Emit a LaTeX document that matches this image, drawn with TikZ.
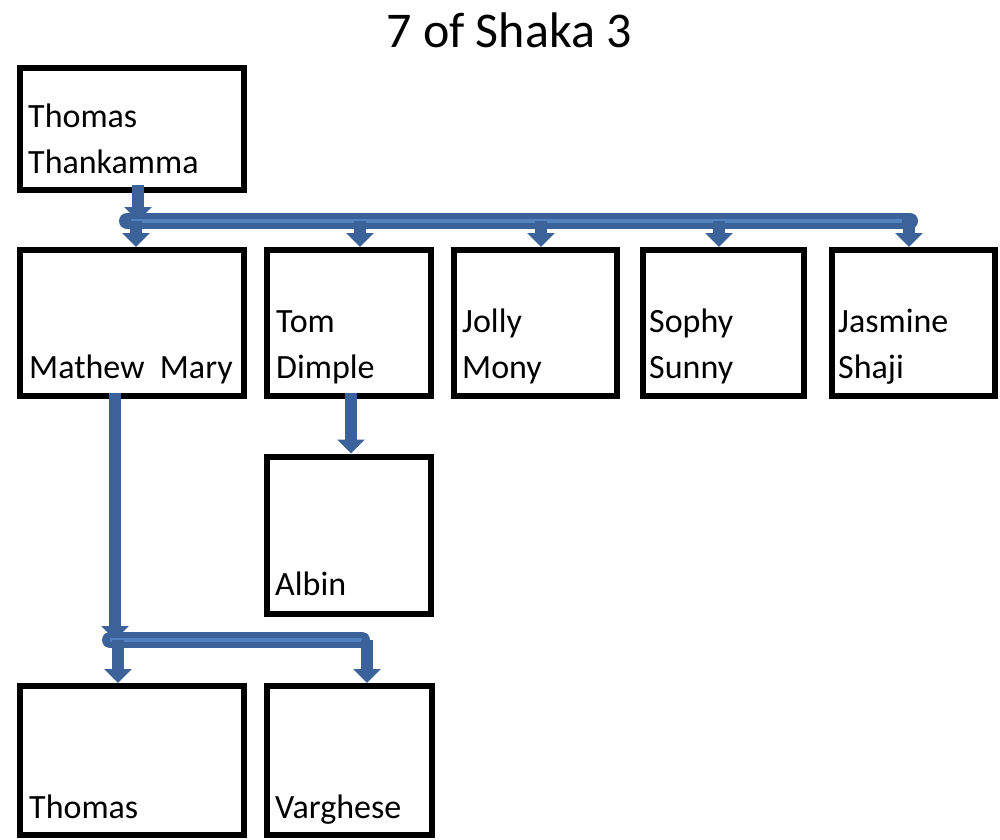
\documentclass[tikz,border=0pt]{standalone}
\usepackage{fontspec}
\setmainfont{Carlito}
\usetikzlibrary{arrows.meta}
\definecolor{conn}{RGB}{60,99,153}
\definecolor{connlight}{RGB}{84,130,190}
\begin{document}
\begin{tikzpicture}[x=1pt,y=-1pt,
 box/.style={draw=black, line width=6pt, fill=white, inner sep=0pt, outer sep=3pt},
 txt/.style={font=\fontsize{34}{46}\selectfont, inner sep=0pt, anchor=base west, align=left},
 link/.style={draw=conn, line width=12pt, -{Triangle[width=27pt,length=14pt]}},
 bus/.style={draw=conn, line width=16pt, line cap=round},
 busmark/.style={draw=connlight, line width=4pt},
]
\fill[white] (0,0) rectangle (1000,839);
\useasboundingbox (0,0) rectangle (1000,839);

\node[font=\fontsize{50}{60}\selectfont, anchor=base, inner sep=0pt] (title) at (509,47) {7 of Shaka 3};

% boxes
\node[box, minimum width=224pt, minimum height=122pt] (A) at (132,129) {};
\node[box, minimum width=224pt, minimum height=146pt] (B) at (132,323) {};
\node[box, minimum width=164pt, minimum height=146pt] (C) at (349,323) {};
\node[box, minimum width=163pt, minimum height=146pt] (D) at (535.5,323) {};
\node[box, minimum width=161pt, minimum height=146pt] (E) at (723.5,323) {};
\node[box, minimum width=163pt, minimum height=146pt] (F) at (913.5,323) {};
\node[box, minimum width=164pt, minimum height=157pt] (G) at (349,535) {};
\node[box, minimum width=224pt, minimum height=149pt] (H) at (132,760.5) {};
\node[box, minimum width=165pt, minimum height=149pt] (I) at (349.5,760.5) {};

% texts (anchor = baseline of last line)
\node[txt] (tA) at (28,173) {Thomas\\Thankamma};
\node[txt] (tB) at (29,378) {Mathew~~Mary};
\node[txt] (tC) at (276,378) {Tom\\Dimple};
\node[txt] (tD) at (462,378) {Jolly\\Mony};
\node[txt] (tE) at (649,378) {Sophy\\Sunny};
\node[txt] (tF) at (838,378) {Jasmine\\Shaji};
\node[txt] (tG) at (275,595) {Albin};
\node[txt] (tH) at (29,818) {Thomas};
\node[txt] (tI) at (275,818) {Varghese};

% first bus
\coordinate (busL) at (127,221);
\coordinate (busR) at (910,221);
\draw[link] ([xshift=6pt,yshift=8pt]A.south) -- ([xshift=6pt]A.south |- busL);
\draw[bus] (busL) -- (busR);
\draw[busmark] ([xshift=4pt]busL) -- ([xshift=-8pt]busR);
\draw[link] ([xshift=4pt]B.north |- busL) -- ([xshift=4pt]B.north);
\draw[link] ([xshift=11pt]C.north |- busL) -- ([xshift=11pt]C.north);
\draw[link] ([xshift=5.5pt]D.north |- busL) -- ([xshift=5.5pt]D.north);
\draw[link] ([xshift=-4.5pt]E.north |- busL) -- ([xshift=-4.5pt]E.north);
\draw[link] ([xshift=-4.5pt]F.north |- busL) -- ([xshift=-4.5pt]F.north);

% Tom -> Albin
\draw[link] ([xshift=2pt,yshift=6pt]C.south) -- ([xshift=2pt]G.north);

% second bus
\coordinate (bus2L) at (110,640);
\coordinate (bus2R) at (362,640);
\draw[link] ([xshift=-17pt,yshift=6pt]B.south) -- ([xshift=-17pt]B.south |- bus2L);
\draw[bus] (bus2L) -- (bus2R);
\draw[busmark] (bus2L) -- (bus2R);
\draw[link] ([xshift=-14pt]H.north |- bus2L) -- ([xshift=-14pt]H.north);
\draw[link] ([xshift=17.5pt]I.north |- bus2L) -- ([xshift=17.5pt]I.north);
\end{tikzpicture}
\end{document}
